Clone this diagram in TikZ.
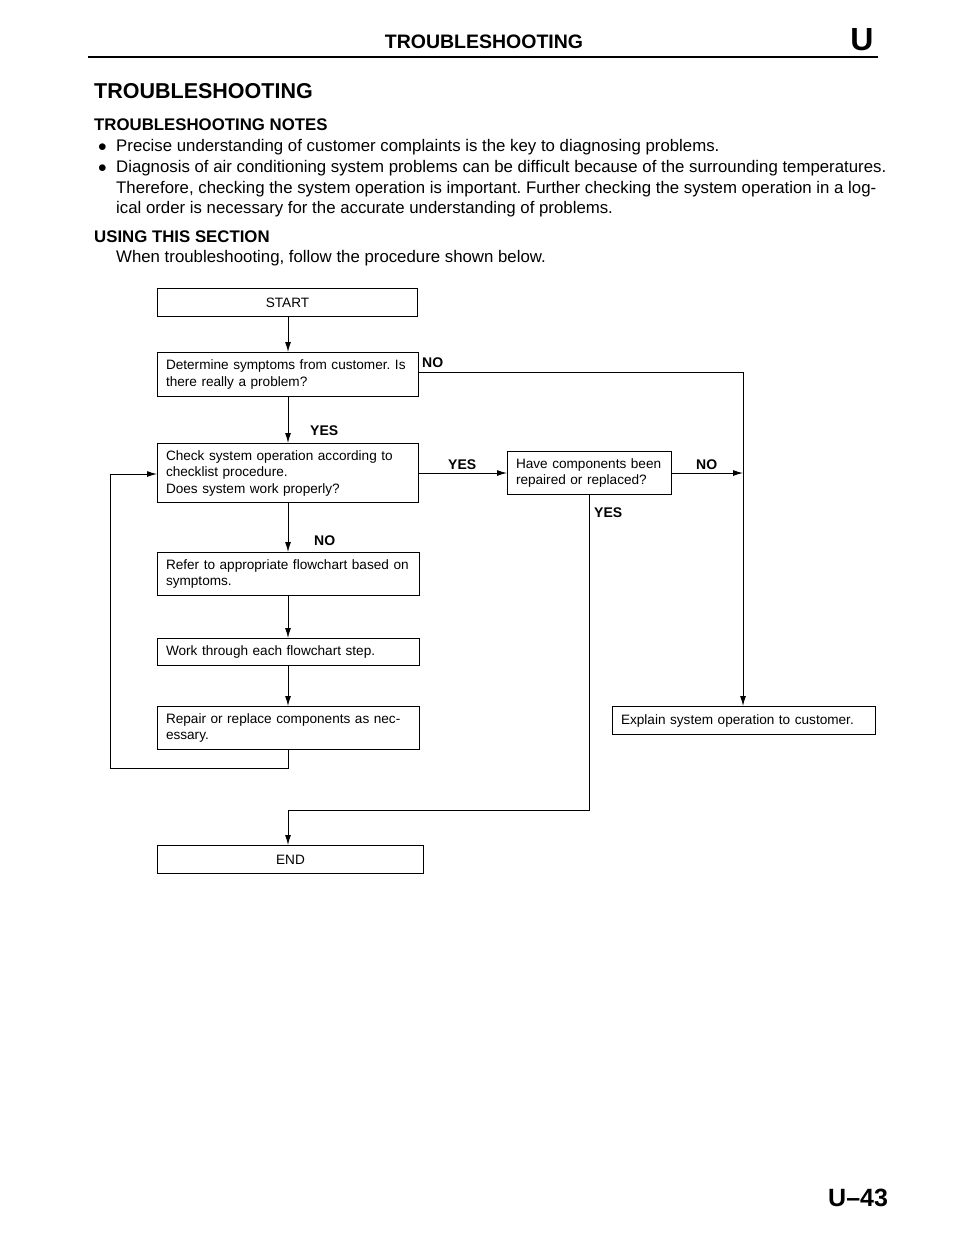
\documentclass[tikz,border=0pt]{standalone}
\usepackage{fontspec}
\setmainfont{Liberation Sans}
\usetikzlibrary{arrows.meta}
\frenchspacing
\begin{document}
\begin{tikzpicture}[x=1pt,y=-1pt,
  box/.style={draw, line width=1pt, anchor=north west, inner xsep=8.5pt, inner ysep=0pt, align=left, font=\fontsize{13.6}{16.5}\selectfont},
  cbox/.style={draw, line width=1pt, anchor=north west, inner sep=0pt, align=center, font=\fontsize{13.6}{16.5}\selectfont},
  arr/.style={line width=1pt, -{Latex[length=10pt,width=6pt]}},
  lbl/.style={font=\bfseries\fontsize{14}{16}\selectfont, inner sep=0pt, anchor=base west},
  body/.style={font=\fontsize{16.8}{20}\selectfont, inner sep=0pt, anchor=base west},
  bhead/.style={font=\bfseries\fontsize{16.8}{20}\selectfont, inner sep=0pt, anchor=base west}
]
\useasboundingbox[fill=white] (0,0) rectangle (960,1242);
% header
\node[font=\bfseries\fontsize{19.5}{22}\selectfont, inner sep=0pt, anchor=base] (hdr) at (484,48) {TROUBLESHOOTING};
\node[font=\bfseries\fontsize{32}{34}\selectfont, inner sep=0pt, anchor=base] (hu) at (862,50) {U};
\coordinate (r1) at (88,57);
\coordinate (r2) at (878,57);
\draw[line width=2pt] (r1) -- (r2);
\node[font=\bfseries\fontsize{21.5}{24}\selectfont, inner sep=0pt, anchor=base west] (title) at (94,98) {TROUBLESHOOTING};
\node[bhead] (h1) at (94,130) {TROUBLESHOOTING NOTES};
\node[body] (b1) at (98,151) {$\bullet$};
\node[body] (t1) at (116,151) {Precise understanding of customer complaints is the key to diagnosing problems.};
\node[body] (b2) at (98,172) {$\bullet$};
\node[body] (t2) at (116,172) {Diagnosis of air conditioning system problems can be difficult because of the surrounding temperatures.};
\node[body] (t3) at (116,193) {Therefore, checking the system operation is important. Further checking the system operation in a log-};
\node[body] (t4) at (116,213) {ical order is necessary for the accurate understanding of problems.};
\node[bhead] (h2) at (94,242) {USING THIS SECTION};
\node[body] (t5) at (116,262) {When troubleshooting, follow the procedure shown below.};
% boxes
\node[cbox, minimum width=260pt, minimum height=28pt] (start) at (157,288) {START};
\node[box, minimum width=261pt, minimum height=44pt, text width=244pt] (det) at (157,352) {Determine symptoms from customer. Is\\there really a problem?};
\node[box, minimum width=261pt, minimum height=59pt, text width=244pt] (chk) at (157,443) {Check system operation according to\\checklist procedure.\\Does system work properly?};
\node[box, minimum width=164pt, minimum height=43pt, text width=147pt] (have) at (507,451) {Have components been\\repaired or replaced?};
\node[box, minimum width=262pt, minimum height=43pt, text width=245pt] (ref) at (157,552) {Refer to appropriate flowchart based on\\symptoms.};
\node[box, minimum width=262pt, minimum height=27pt, text width=245pt] (work) at (157,638) {Work through each flowchart step.};
\node[box, minimum width=262pt, minimum height=43pt, text width=245pt] (rep) at (157,706) {Repair or replace components as nec-\\essary.};
\node[box, minimum width=263pt, minimum height=28pt, text width=246pt] (expl) at (612,706) {Explain system operation to customer.};
\node[cbox, minimum width=266pt, minimum height=28pt] (end) at (157,845) {END};
% connectors
\coordinate (c1) at (743,372);
\coordinate (c2) at (743,706);
\coordinate (d1) at (589,810);
\coordinate (d2) at (288,810);
\coordinate (l1) at (288,768);
\coordinate (l2) at (110,768);
\coordinate (l3) at (110,474);
\draw[arr] (start.south -| 288,0) -- (det.north -| 288,0);
\draw[arr] (det.south -| 288,0) -- (chk.north -| 288,0);
\draw[arr] (chk.south -| 288,0) -- (ref.north -| 288,0);
\draw[arr] (ref.south -| 288,0) -- (work.north -| 288,0);
\draw[arr] (work.south -| 288,0) -- (rep.north -| 288,0);
\draw[arr] (det.east |- c1) -- (c1) -- (c2);
\draw[arr] (chk.east |- 0,473) -- (have.west |- 0,473);
\draw[arr] (have.east |- 0,473) -- (c1 |- 0,473);
\draw[arr] (have.south -| d1) -- (d1) -- (d2) -- (end.north -| d2);
\draw[arr] (rep.south -| l1) -- (l1) -- (l2) -- (l3) -- (chk.west |- l3);
% labels
\node[lbl] (ln1) at (422,367) {NO};
\node[lbl] (ly1) at (310,435) {YES};
\node[lbl] (ly2) at (448,469) {YES};
\node[lbl] (ln2) at (696,469) {NO};
\node[lbl] (ly3) at (594,517) {YES};
\node[lbl] (ln3) at (314,545) {NO};
% page number
\node[font=\bfseries\fontsize{25}{27}\selectfont, inner sep=0pt, anchor=base west] (pg) at (828,1206) {U--43};
\end{tikzpicture}
\end{document}
